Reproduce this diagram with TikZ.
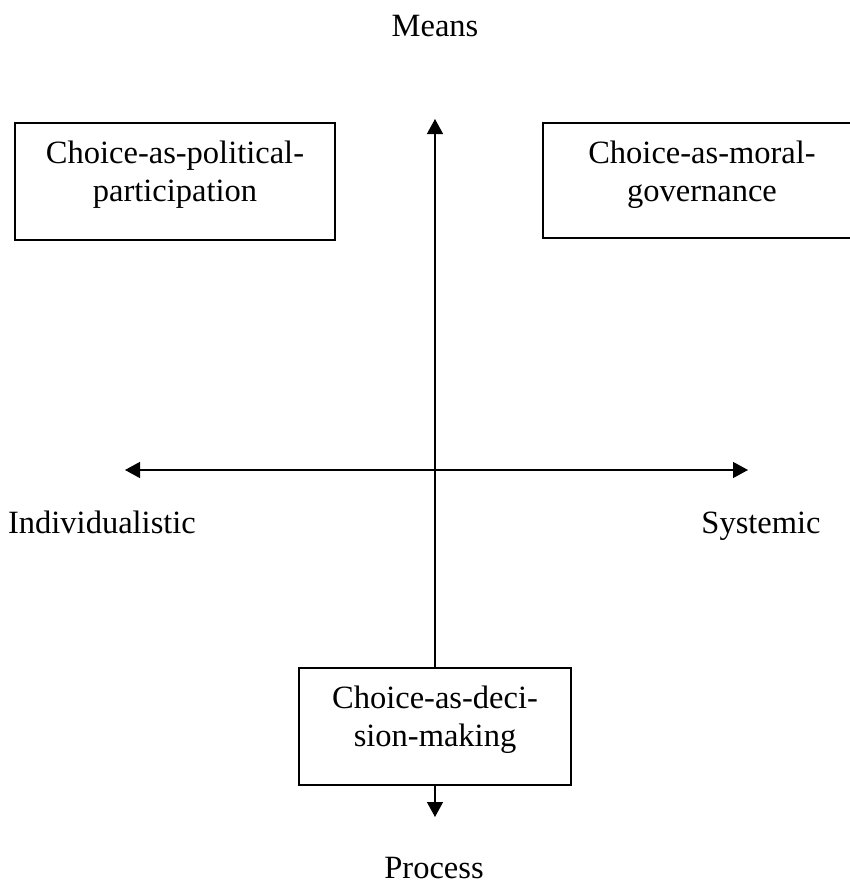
\documentclass[tikz,border=0pt]{standalone}
\usepackage{fontspec}
\setmainfont{Liberation Serif}
\usetikzlibrary{arrows.meta,positioning}

\tikzset{
  quadbox/.style = {draw, line width=1.4pt, fill=white, inner sep=0pt, outer sep=0pt, anchor=north west},
  axislabel/.style = {inner sep=0pt, anchor=base},
  axis/.style = {line width=1.3pt},
  tip/.tip = {Triangle[length=15pt,width=16pt]}
}
\newcommand{\boxtext}[3]{\parbox[t][#2][t]{#1}{\centering\vspace*{14pt}\strut #3}}

\begin{document}
\begin{tikzpicture}[x=1pt, y=-1pt, font=\fontsize{32.5pt}{38pt}\selectfont]
  \useasboundingbox (0,0) rectangle (849,888);

  % the three kinds of choice
  \node[quadbox] (political) at (15,123)  {\boxtext{320pt}{117pt}{Choice-as-political-\\participation}};
  \node[quadbox] (moral)     at (543,123) {\boxtext{318pt}{115pt}{Choice-as-moral-\\governance}};
  \node[quadbox] (decision)  at (299,668) {\boxtext{272pt}{117pt}{Choice-as-deci-\\sion-making}};

  % free ends of the axes
  \coordinate (meanstip)   at (435,119);
  \coordinate (processtip) at (435,817);
  \coordinate (indtip)     at (125,470);
  \coordinate (systip)     at (748,470);

  \draw[axis, tip-tip] (indtip) -- (systip);
  \draw[axis, -tip] (decision.north) -- (meanstip);
  \draw[axis, -tip] (decision.south) -- (processtip);

  % axis labels
  \node[axislabel] (means)   at (435,37)  {Means};
  \node[axislabel] (process) at (434,878) {Process};
  \node[axislabel] (individualistic) at (102,533) {Individualistic};
  \node[axislabel] (systemic) at (761,533) {Systemic};
\end{tikzpicture}
\end{document}
